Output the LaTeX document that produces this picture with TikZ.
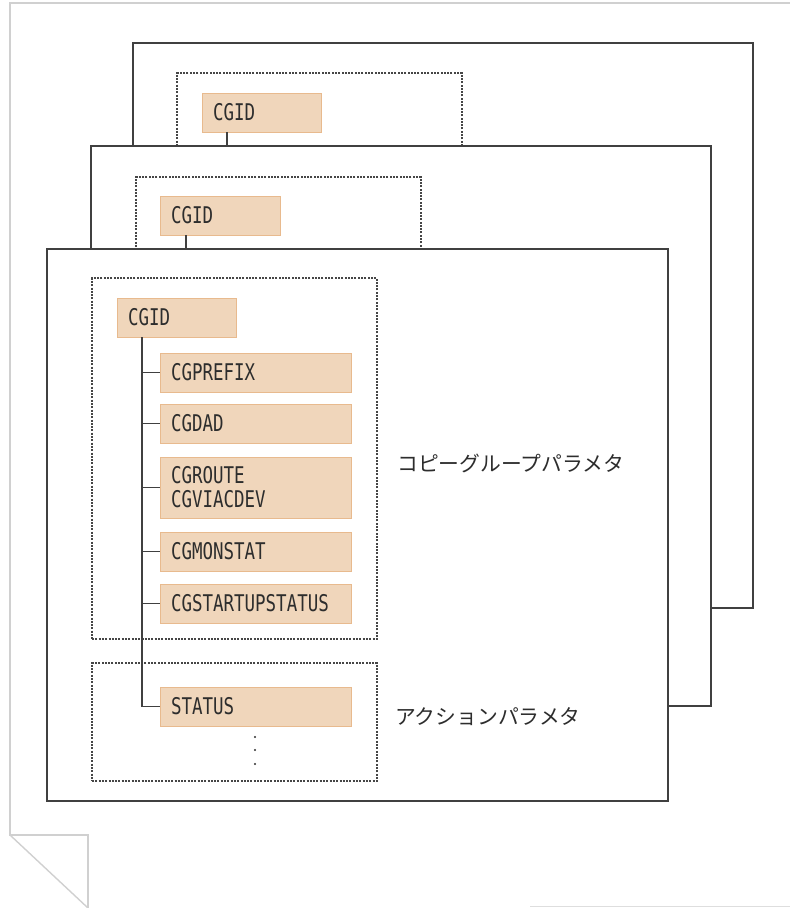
\documentclass[tikz,border=0pt]{standalone}
\usepackage{fontspec}
\newfontfamily\cgfont{DejaVu Sans Mono}[FakeStretch=0.76]
\newfontfamily\jpfont{Noto Sans CJK JP}
\definecolor{pagegray}{RGB}{208,208,208}
\definecolor{boxline}{RGB}{64,64,64}
\definecolor{dashline}{RGB}{70,70,70}
\definecolor{nodefill}{RGB}{240,214,187}
\definecolor{nodeline}{RGB}{232,186,142}
\definecolor{txt}{RGB}{45,45,45}
\begin{document}
\begin{tikzpicture}[x=1pt,y=-1pt,
  pageline/.style={draw=pagegray,line width=1.4pt},
  bigbox/.style={draw=boxline,fill=white,line width=1.6pt,anchor=north west,inner sep=0pt,outer sep=0pt},
  groupbox/.style={draw=dashline,line width=1.7pt,dash pattern=on 2pt off 1.3pt,anchor=north west,inner sep=0pt,outer sep=0pt,minimum width=285pt},
  param/.style={draw=nodeline,fill=nodefill,line width=1pt,anchor=north west,inner xsep=11pt,inner ysep=0pt,outer sep=0pt,
    minimum height=39pt,align=left,text=txt,font=\cgfont\fontsize{23}{24}\selectfont},
  rootparam/.style={param,text width=97pt},
  childparam/.style={param,text width=169pt},
  link/.style={draw=boxline,line width=1.5pt},
  label/.style={anchor=west,inner sep=0pt,text=txt,font=\jpfont\fontsize{20.8}{22}\selectfont}]
\useasboundingbox (0,0) rectangle (790,908);
% page outline with folded corner
\draw[pageline] (790,3) -- (10,3) -- (10,835) -- (88,835) -- (88,908);
\draw[pageline] (10,835) -- (88,908);
\draw[pagegray!70,line width=1pt] (530,906) -- (790,906);
% back sheet 1
\node[bigbox,minimum width=620pt,minimum height=565pt] (sheetA) at (133,43) {};
\node[groupbox,minimum height=240pt] (groupA) at (177,73) {};
\node[rootparam] (cgidA) at (202,93) {CGID};
% back sheet 2
\node[bigbox,minimum width=620pt,minimum height=560pt] (sheetB) at (91,146) {};
\draw[link] ([xshift=25pt]cgidA.south west) -- ([xshift=25pt]cgidA.south west |- sheetB.north);
\node[groupbox,minimum height=240pt] (groupB) at (136,177) {};
\node[rootparam,text width=98pt] (cgidB) at (160,196) {CGID};
% front sheet
\node[bigbox,minimum width=621pt,minimum height=552pt] (sheetC) at (47,249) {};
\draw[link] ([xshift=26pt]cgidB.south west) -- ([xshift=26pt]cgidB.south west |- sheetC.north);
\node[groupbox,minimum height=361pt] (groupC) at (92,278) {};
\node[groupbox,minimum height=118pt] (action) at (92,663) {};
\node[rootparam] (cgid) at (117,298) {CGID};
\node[childparam] (prefix) at (160,353) {CGPREFIX};
\node[childparam] (dad) at (160,404) {CGDAD};
\node[childparam,minimum height=61pt] (route) at (160,457) {CGROUTE\\CGVIACDEV};
\node[childparam] (monstat) at (160,532) {CGMONSTAT};
\node[childparam] (startup) at (160,584) {CGSTARTUPSTATUS};
\node[childparam] (status) at (160,687) {STATUS};
% tree connectors
\coordinate (trunk) at ([xshift=25pt]cgid.south west);
\draw[link] (trunk) |- (status.west);
\foreach \n in {prefix,dad,route,monstat,startup}
  \draw[link] (trunk |- \n.west) -- (\n.west);
% continuation dots
\foreach \yy in {737,750,764}
  \fill[txt] (255,\yy) circle (1.2pt);
% labels
\node[label] (copylabel) at (397,463) {コピーグループパラメタ};
\node[label] (actionlabel) at (395,717) {アクションパラメタ};
\end{tikzpicture}
\end{document}
